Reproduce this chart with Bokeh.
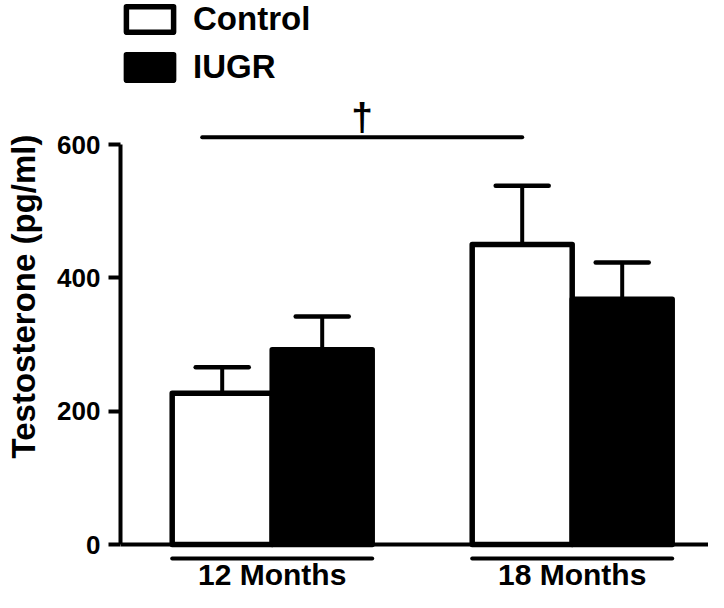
from bokeh.plotting import figure
from bokeh.models import Range1d, FixedTicker, Span, Legend, LegendItem, ColumnDataSource
from bokeh.core.properties import value
from bokeh.embed import file_html
from bokeh.resources import INLINE

# ---- data ----
categories = ["12 Months", "18 Months"]
group_pos = [1.0, 4.0]
control_mean = [227, 450]
control_sem = [39, 88]
iugr_mean = [292, 368]
iugr_sem = [50, 55]
y_ticks = [0, 200, 400, 600]
sig_label = "†"

FONT = "Liberation Sans"
BAR_W = 1.0
CAP_HALF = 0.265

p = figure(width=708, height=592,
           x_range=Range1d(-0.517, 5.363), y_range=Range1d(-72, 816),
           output_backend="svg", toolbar_location=None, x_axis_location=None,
           min_border_left=120, min_border_right=0, min_border_top=0, min_border_bottom=0,
           outline_line_color=None)
p.grid.visible = False
p.background_fill_color = "white"

# y axis
ax = p.yaxis[0]
ax.bounds = (0, 600)
ax.ticker = FixedTicker(ticks=y_ticks)
ax.minor_tick_line_color = None
ax.major_tick_in = 0
ax.major_tick_out = 12
ax.major_tick_line_width = 4
ax.axis_line_width = 4
ax.major_label_standoff = 8
ax.major_label_text_font = FONT
ax.major_label_text_font_style = "bold"
ax.major_label_text_font_size = "26px"
ax.major_label_text_color = "black"
ax.axis_label = "Testosterone (pg/ml)"
ax.axis_label_text_font = FONT
ax.axis_label_text_font_style = "bold"
ax.axis_label_text_font_size = "33px"
ax.axis_label_standoff = 12
ax.axis_label_text_color = "black"

# bars
cx = [g - BAR_W / 2 for g in group_pos]
ix = [g + BAR_W / 2 for g in group_pos]
src_c = ColumnDataSource(dict(x=cx, top=control_mean, err=[m + s for m, s in zip(control_mean, control_sem)]))
src_i = ColumnDataSource(dict(x=ix, top=iugr_mean, err=[m + s for m, s in zip(iugr_mean, iugr_sem)]))

# error bars (upper only)
for src in (src_c, src_i):
    p.segment(x0="x", y0="top", x1="x", y1="err", source=src, line_color="black", line_width=4)
    d = src.data
    p.segment(x0=[x - CAP_HALF for x in d["x"]], y0=d["err"],
              x1=[x + CAP_HALF for x in d["x"]], y1=d["err"],
              line_color="black", line_width=4.5, line_cap="round")

r_c = p.vbar(x="x", top="top", bottom=0, width=BAR_W, source=src_c,
             fill_color="white", line_color="black", line_width=5.5, line_join="round")
r_i = p.vbar(x="x", top="top", bottom=0, width=BAR_W, source=src_i,
             fill_color="black", line_color="black", line_width=5.5, line_join="round")

# baseline
p.add_layout(Span(location=0, dimension="width", line_color="black", line_width=4))

# group underlines and labels
p.segment(x0=[g - 1.0 for g in group_pos], y0=[-21] * 2,
          x1=[g + 1.0 for g in group_pos], y1=[-21] * 2,
          line_color="black", line_width=4, line_cap="round")
p.text(x=group_pos, y=[-69] * 2, text=categories, text_align="center",
       text_baseline="bottom", text_font=value(FONT), text_font_style="bold",
       text_font_size="30px", text_color="black")

# significance bar
sig_x0 = group_pos[0] - 0.7
sig_x1 = group_pos[1] - BAR_W / 2
p.segment(x0=[sig_x0], y0=[611], x1=[sig_x1], y1=[611],
          line_color="black", line_width=4, line_cap="round")
p.text(x=[(sig_x0 + sig_x1) / 2], y=[642], text=[sig_label], text_align="center",
       text_baseline="alphabetic", text_font=value(FONT), text_font_style="bold",
       text_font_size="39px", text_color="black")

# legend
legend = Legend(items=[LegendItem(label="Control", renderers=[r_c]),
                       LegendItem(label="IUGR", renderers=[r_i])],
                location="top_left", margin=0, padding=2, spacing=10,
                glyph_width=59, glyph_height=32, label_standoff=14,
                label_text_font=FONT, label_text_font_style="bold",
                label_text_font_size="33px", label_text_color="black",
                border_line_color=None, background_fill_alpha=0)
p.add_layout(legend)

open("out.html", "w").write(file_html(p, INLINE))
